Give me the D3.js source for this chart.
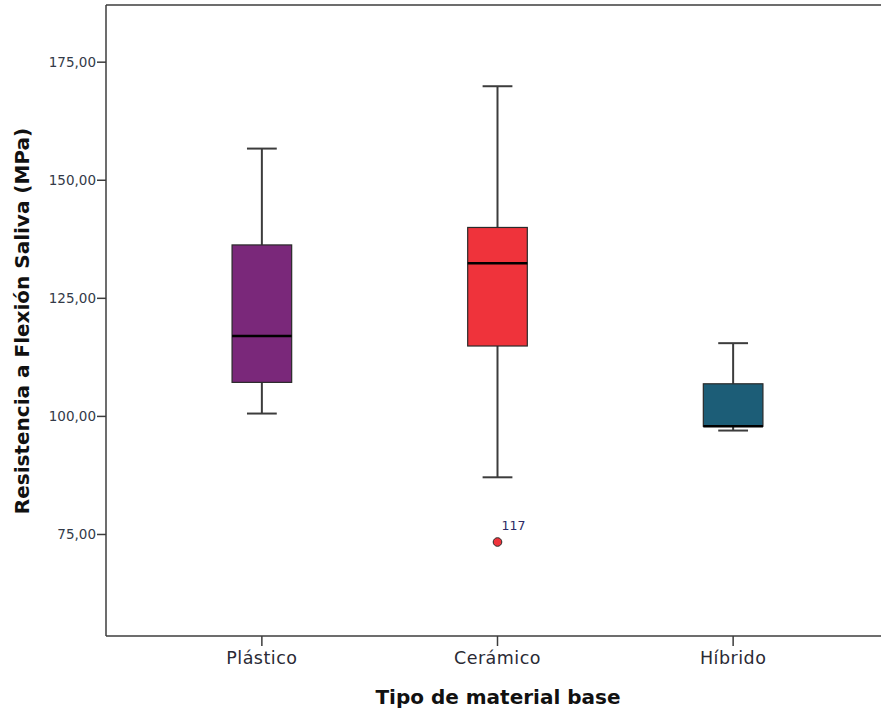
<!DOCTYPE html>
<html>
<head>
<meta charset="utf-8">
<script src="https://cdn.jsdelivr.net/npm/d3@7"></script>
<style>
  html, body { margin: 0; padding: 0; background: #fff; }
  svg { display: block; }
</style>
</head>
<body>
<svg id="chart" width="881" height="716"></svg>
<script>
// Box plot summary per base material type
const categories = ["Plástico", "Cerámico", "Híbrido"];
const whiskerLow  = [100.5, 87.0, 96.9];
const q1          = [107.1, 114.8, 97.9];
const median      = [116.9, 132.3, 97.8];
const q3          = [136.2, 139.9, 106.8];
const whiskerHigh = [156.6, 169.8, 115.4];
const colors      = ["#7a287a", "#ef333b", "#1c5d77"];

// Outliers: [category, value, case label]
const outlierCat   = ["Cerámico"];
const outlierVal   = [73.3];
const outlierLabel = ["117"];

const yTicks = [75, 100, 125, 150, 175];
const yTitle = "Resistencia a Flexión Saliva (MPa)";
const xTitle = "Tipo de material base";

const svg = d3.select("#chart");
const frame = { left: 106, top: 5, right: 889, bottom: 636 };

const y = d3.scaleLinear().domain([53.4, 187]).range([frame.bottom, frame.top]);
const x = d3.scaleBand().domain(categories)
  .range([frame.left, frame.right]).paddingInner(0.747).paddingOuter(0.535);
const boxW = x.bandwidth();
const capW = boxW / 2;

const fontFamily = "'DejaVu Sans', 'Open Sans', sans-serif";
const lineColor = "#3c3c3c";

// frame (top and bottom lines; plot continues past the right edge)
svg.append("line").attr("x1", frame.left).attr("x2", 881)
  .attr("y1", frame.top).attr("y2", frame.top)
  .attr("stroke", lineColor).attr("stroke-width", 1.5);

// y axis
const yAxis = svg.append("g").attr("transform", `translate(${frame.left},0)`)
  .call(d3.axisLeft(y).tickValues(yTicks).tickSize(9).tickPadding(1)
    .tickFormat(d => d3.format(".2f")(d).replace(".", ",")));
yAxis.select(".domain").attr("stroke", lineColor).attr("stroke-width", 1.5)
  .attr("d", `M0,${frame.top}V${frame.bottom}`);
yAxis.selectAll(".tick line").attr("stroke", lineColor).attr("stroke-width", 1.5);
yAxis.selectAll(".tick text").attr("fill", "#333a48")
  .style("font-family", fontFamily).style("font-size", "13.5px");

// x axis
const xAxis = svg.append("g").attr("transform", `translate(0,${frame.bottom})`)
  .call(d3.axisBottom(x).tickSize(10).tickPadding(6));
xAxis.select(".domain").attr("stroke", lineColor).attr("stroke-width", 1.5)
  .attr("d", `M${frame.left},0H881`);
xAxis.selectAll(".tick line").attr("stroke", lineColor).attr("stroke-width", 1.5);
xAxis.selectAll(".tick text").attr("fill", "#2a2a35")
  .style("font-family", fontFamily).style("font-size", "17.5px")
  .style("letter-spacing", "0.5px");

// boxes
const g = svg.append("g");
categories.forEach((c, i) => {
  const cx = x(c) + boxW / 2;
  const grp = g.append("g");
  // whiskers
  grp.append("line").attr("x1", cx).attr("x2", cx)
    .attr("y1", y(whiskerHigh[i])).attr("y2", y(q3[i]))
    .attr("stroke", lineColor).attr("stroke-width", 2);
  grp.append("line").attr("x1", cx).attr("x2", cx)
    .attr("y1", y(q1[i])).attr("y2", y(whiskerLow[i]))
    .attr("stroke", lineColor).attr("stroke-width", 2);
  [whiskerHigh[i], whiskerLow[i]].forEach(v => {
    grp.append("line").attr("x1", cx - capW / 2).attr("x2", cx + capW / 2)
      .attr("y1", y(v)).attr("y2", y(v))
      .attr("stroke", lineColor).attr("stroke-width", 2);
  });
  // box
  const top = y(Math.max(q1[i], q3[i], median[i]));
  const bot = y(Math.min(q1[i], q3[i], median[i]));
  grp.append("rect").attr("x", x(c)).attr("y", top)
    .attr("width", boxW).attr("height", bot - top)
    .attr("fill", colors[i]).attr("stroke", "#2a2a2a").attr("stroke-width", 1.2);
  // median
  grp.append("line").attr("x1", x(c)).attr("x2", x(c) + boxW)
    .attr("y1", y(median[i])).attr("y2", y(median[i]))
    .attr("stroke", "#000").attr("stroke-width", 2.5);
});

// outliers
outlierCat.forEach((c, i) => {
  const ci = categories.indexOf(c);
  const cx = x(c) + boxW / 2;
  svg.append("circle").attr("cx", cx).attr("cy", y(outlierVal[i])).attr("r", 4.3)
    .attr("fill", colors[ci]).attr("stroke", "#2a2a2a").attr("stroke-width", 1);
  svg.append("text").attr("x", cx + 4).attr("y", y(outlierVal[i]) - 12)
    .attr("fill", "#2c2a66").style("font-family", fontFamily).style("font-size", "12.5px")
    .text(outlierLabel[i]);
});

// axis titles
svg.append("text").attr("x", 498).attr("y", 704).attr("text-anchor", "middle")
  .attr("fill", "#111").style("font-family", fontFamily)
  .style("font-weight", "bold").style("font-size", "20px").text(xTitle);
svg.append("text").attr("transform", "translate(29,321) rotate(-90)")
  .attr("text-anchor", "middle").attr("fill", "#111")
  .style("font-family", fontFamily).style("font-weight", "bold")
  .style("font-size", "20px").text(yTitle);
</script>
</body>
</html>
